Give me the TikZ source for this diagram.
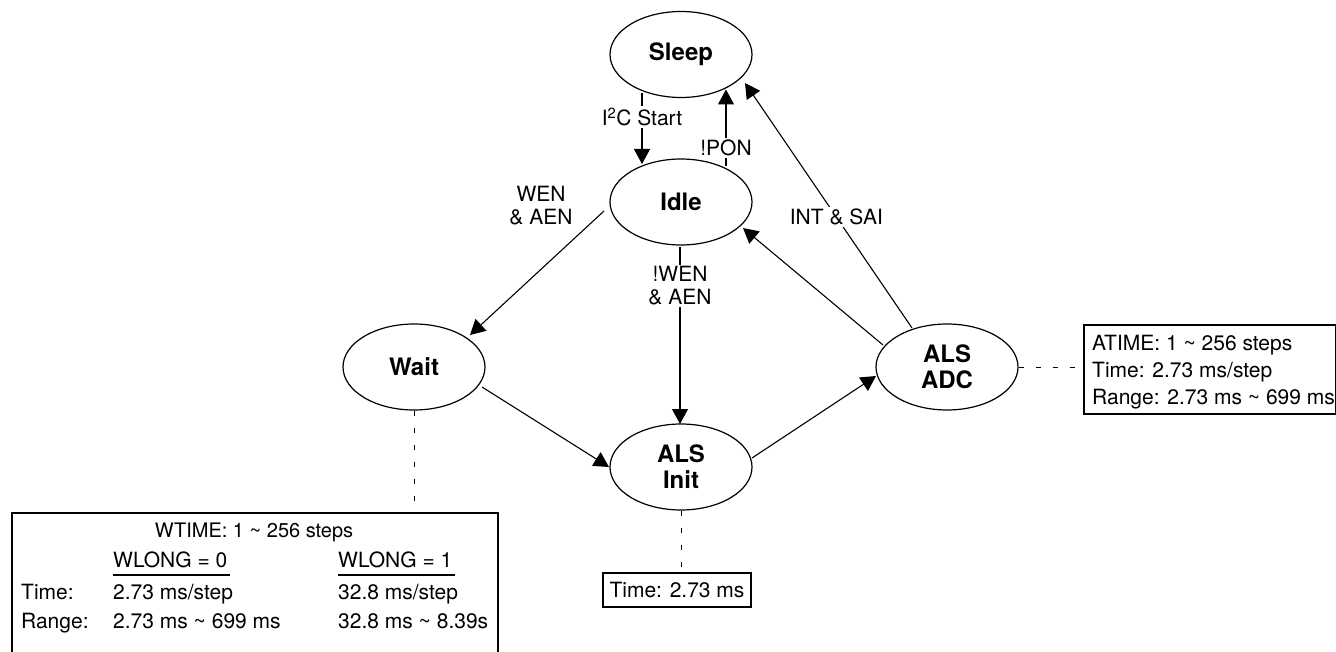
\documentclass[tikz,border=0pt]{standalone}
\usepackage{fontspec}
\setmainfont{TeX Gyre Heros}
\usetikzlibrary{arrows.meta,shapes.geometric,calc}
\begin{document}
\begin{tikzpicture}[x=1pt,y=-1pt,
  state/.style={ellipse, draw, line width=1.2pt, minimum width=142pt, minimum height=86pt, inner sep=0pt, align=center, font=\fontsize{24}{26}\selectfont\bfseries},
  arr/.style={-{Triangle[length=15pt,width=16pt]}, line width=1.1pt},
  lbl/.style={font=\fontsize{21}{23}\selectfont, align=center, fill=white, inner sep=2pt},
  txt/.style={font=\fontsize{21}{23}\selectfont, inner sep=0pt},
  dsh/.style={dash pattern=on 5pt off 12pt, line width=1pt},
  frame/.style={draw, line width=2.2pt, inner sep=0pt},
  uline/.style={line width=1.2pt}]
\useasboundingbox (0,0) rectangle (1336,652);

% states
\node[state] (sleep) at (681,54.5) {Sleep};
\node[state] (idle) at (681,202) {Idle};
\node[state] (wait) at (414,367) {Wait};
\node[state] (init) at (681,467) {ALS\\Init};
\node[state] (adc) at (947,367) {ALS\\ADC};

% transitions
\draw[arr] ($(sleep)+(-39,39)$) -- node[lbl, pos=0.33] {I\textsuperscript{2}C Start} ($(idle)+(-39,-38)$);
\draw[arr] ($(idle)+(45,-36)$) -- node[lbl, pos=0.235] {!PON} ($(sleep)+(45,35)$);
\draw[arr] ($(idle)+(-77,9)$) -- ($(wait)+(56,-32)$);
\node[txt, align=center] (wenlbl) at (541,206) {WEN\\\& AEN};
\draw[arr] ($(idle)+(-1,45)$) -- node[lbl, pos=0.22] {!WEN\\\& AEN} ($(init)+(-1,-43)$);
\draw[arr] ($(wait)+(68,20)$) -- ($(init)+(-72,0)$);
\draw[arr] ($(init)+(71,-9)$) -- ($(adc)+(-71,9)$);
\draw[arr] ($(adc)+(-64,-22)$) -- ($(idle)+(62,26)$);
\draw[arr] ($(adc)+(-35,-39)$) -- node[lbl, pos=0.453] {INT \& SAI} ($(sleep)+(64,28.5)$);

% WTIME box
\node[frame, anchor=north west, minimum width=486pt, minimum height=170pt] (wbox) at (11,512) {};
\node[txt, anchor=base, font=\fontsize{20}{22}\selectfont] (wt) at (254,537.5) {WTIME: 1 \textasciitilde\ 256 steps};
\node[txt, anchor=base west] (wl0) at (113,567.5) {WLONG = 0};
\node[txt, anchor=base west] (wl1) at (338,567.5) {WLONG = 1};
\draw[uline] ($(wl0.base west)+(0,7.5)$) -- ($(wl0.base east)+(2,7.5)$);
\draw[uline] ($(wl1.base west)+(0,7.5)$) -- ($(wl1.base east)+(2,7.5)$);
\node[txt, anchor=base west] (wtl) at (21,599.5) {Time:};
\node[txt, anchor=base west] (wt0) at (113,599.5) {2.73 ms/step};
\node[txt, anchor=base west] (wt1) at (338,599.5) {32.8 ms/step};
\node[txt, anchor=base west] (wrl) at (21,628.5) {Range:};
\node[txt, anchor=base west] (wr0) at (113,628.5) {2.73 ms \textasciitilde\ 699 ms};
\node[txt, anchor=base west] (wr1) at (338,628.5) {32.8 ms \textasciitilde\ 8.39s};

% Init time box
\node[frame, line width=1.8pt, minimum width=148pt, minimum height=34pt, font=\fontsize{21}{23}\selectfont] (tbox) at (677,590) {Time: 2.73 ms};

% ATIME box
\node[frame, anchor=north west, minimum width=252pt, minimum height=89pt] (abox) at (1083,324) {};
\node[txt, anchor=base west] (at1) at (1092,350.5) {ATIME: 1 \textasciitilde\ 256 steps};
\node[txt, anchor=base west] (at2) at (1092,377.5) {Time: 2.73 ms/step};
\node[txt, anchor=base west] (at3) at (1092,404.5) {Range: 2.73 ms \textasciitilde\ 699 ms};

% dashed leaders
\draw[dsh] (wait.south) -- (wait.south |- wbox.north);
\draw[dsh] (init.south) -- (init.south |- tbox.north);
\draw[dsh] (adc.east) -- (adc.east -| abox.west);
\end{tikzpicture}
\end{document}
